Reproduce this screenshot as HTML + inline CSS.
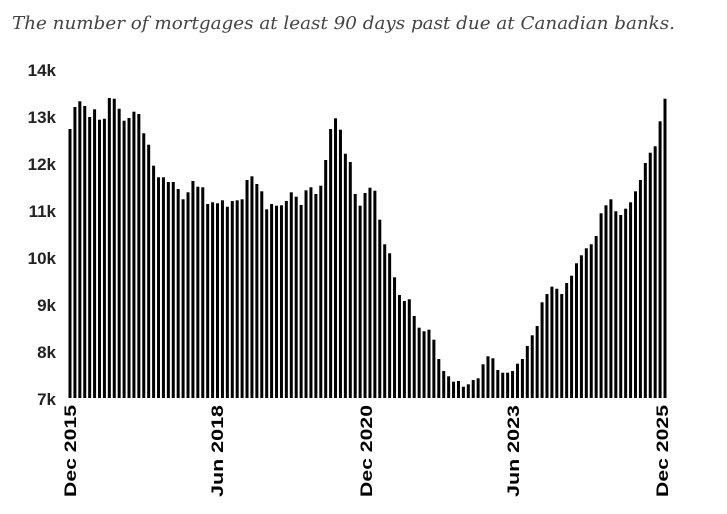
<!DOCTYPE html>
<html><head><meta charset="utf-8"><style>
body{margin:0;background:#fff;width:727px;height:509px;overflow:hidden}
</style></head><body>
<svg width="727" height="509" xmlns="http://www.w3.org/2000/svg" font-family="Liberation Sans, sans-serif">
<text x="12" y="29" font-family="DejaVu Serif, serif" font-style="italic" font-size="18" fill="#444" textLength="663" lengthAdjust="spacingAndGlyphs">The number of mortgages at least 90 days past due at Canadian banks.</text>
<g font-size="17" font-weight="bold" fill="#222" text-anchor="end">
<text x="56" y="76">14k</text><text x="56" y="123">13k</text><text x="56" y="170">12k</text><text x="56" y="217">11k</text><text x="56" y="264">10k</text><text x="56" y="311">9k</text><text x="56" y="358">8k</text><text x="56" y="405">7k</text>
</g>
<g id="bars" fill="#000"></g>
<g font-size="17" font-weight="bold" fill="#000" text-anchor="end">
<text transform="translate(76,405) rotate(-90)" textLength="92" lengthAdjust="spacingAndGlyphs">Dec 2015</text>
<text transform="translate(223,405) rotate(-90)" textLength="92" lengthAdjust="spacingAndGlyphs">Jun 2018</text>
<text transform="translate(372,405) rotate(-90)" textLength="92" lengthAdjust="spacingAndGlyphs">Dec 2020</text>
<text transform="translate(519,405) rotate(-90)" textLength="92" lengthAdjust="spacingAndGlyphs">Jun 2023</text>
<text transform="translate(668,405) rotate(-90)" textLength="92" lengthAdjust="spacingAndGlyphs">Dec 2025</text>
</g>
</svg>
<script>
var v=[207,141,124,138,171,148,179,176,114,116,146,182,174,155,162,220,254,317,352,352,366,366,387,418,397,363,380,382,432,427,430,421,440,423,421,418,360,349,372,394,448,432,437,436,423,397,410,435,391,382,402,377,300,207,175,209,281,306,402,
437,399,383,392,479,553,580,652,705,723,718,768,803,814,809,839,897,933,949,965,963,980,973,960,955,913,889,895,930,938,938,933,911,897,858,826,798,727,702,680,686,702,669,647,610,586,565,553,528,460,436,418,454,465,446,427,394,360,309,278,259,184,116];
var g=document.getElementById('bars'),n=v.length,s='';
for(var i=0;i<n;i++){var x=70+i*(595/(n-1))-1.5,y=60+v[i]/3;s+='<rect x="'+x.toFixed(2)+'" y="'+y.toFixed(1)+'" width="3" height="'+(398-y).toFixed(1)+'"/>';}
g.innerHTML=s;
</script>
</body></html>
